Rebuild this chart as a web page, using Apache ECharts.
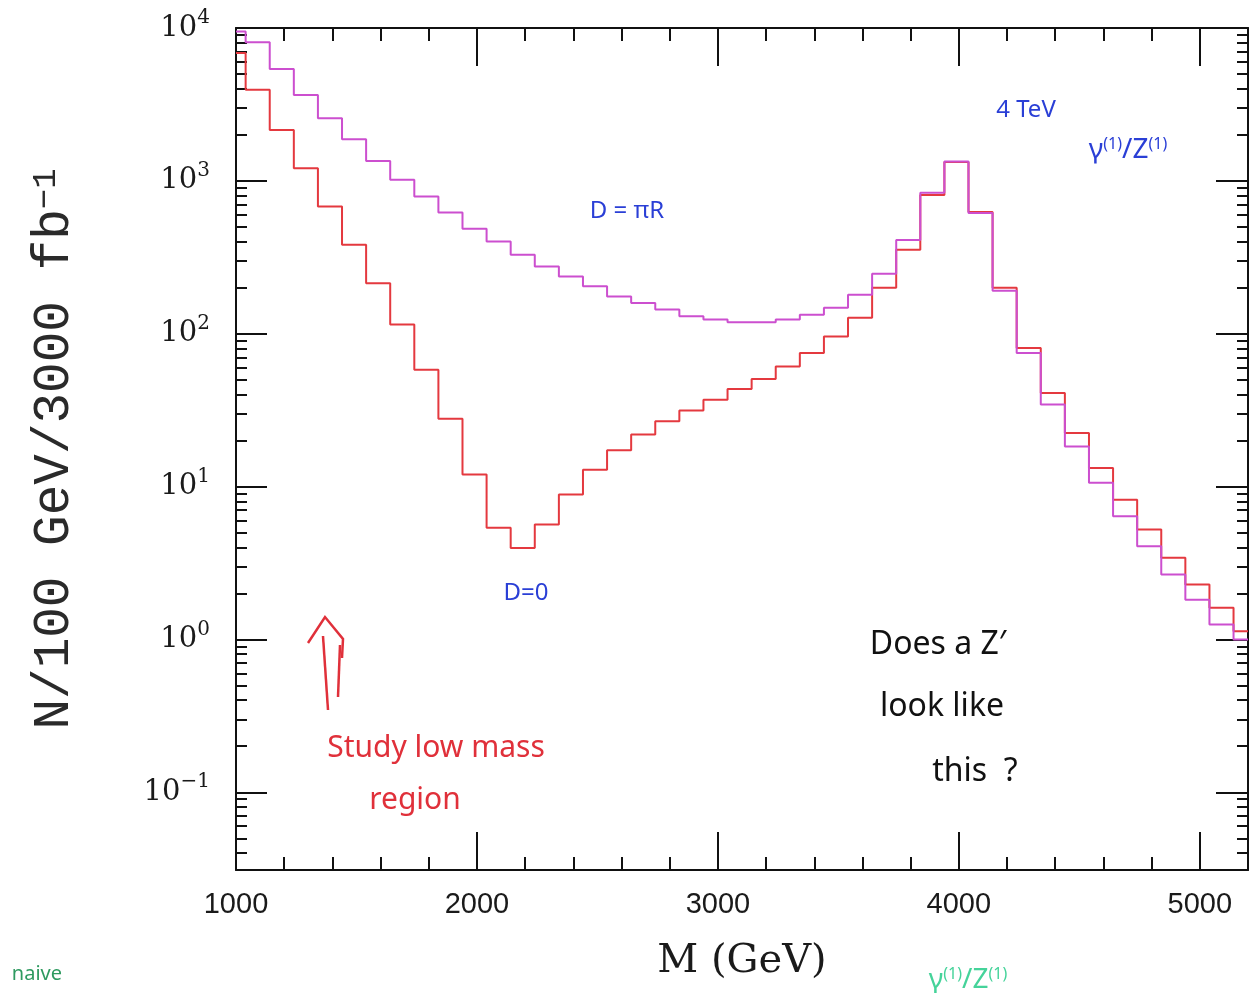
<!DOCTYPE html>
<html><head><meta charset="utf-8">
<script src="https://cdn.jsdelivr.net/npm/echarts@6/dist/echarts.min.js"></script>
<style>html,body{margin:0;padding:0;background:#fff}#c{width:1259px;height:993px}</style>
</head><body><div id="c"></div>
<script>
// ---- data ----
const binLeftEdges = [1000,1040,1140,1240,1340,1440,1540,1640,1740,1840,1940,2040,2140,2240,2340,2440,2540,2640,2740,2840,2940,3040,3140,3240,3340,3440,3540,3640,3740,3840,3940,4040,4140,4240,4340,4440,4540,4640,4740,4840,4940,5040,5140];
const histEnd = 5200;
const valuesDpiR = [9500,8060,5400,3650,2570,1870,1350,1015,790,620,486,401,328,275,237,204,175,159,144,130,124,119,119,124,133,148,180,247,411,835,1340,615,191,74.8,34.4,18.3,10.6,6.4,4.07,2.66,1.82,1.25,1.0];
const valuesD0 = [6870,3940,2155,1211,679,382,214,115,58.2,27.8,12.0,5.37,3.97,5.65,8.87,12.9,17.3,21.9,26.7,31.5,37.0,43.5,50.6,61.1,74.8,96,127,200,354,809,1330,625,200,80.7,40.9,22.4,13.2,8.2,5.24,3.42,2.29,1.61,1.13];
const xMajorTicks = [1000,2000,3000,4000,5000];
const xMinorTicks = [1200,1400,1600,1800,2200,2400,2600,2800,3200,3400,3600,3800,4200,4400,4600,4800,5200];
const yMajorTicks = [0.1,1,10,100,1000,10000];
const yMinorMultipliers = [2,3,4,5,6,7,8,9];
const yMin = 0.031, yMax = 10000;

function toSteps(vals){
  const d = binLeftEdges.map((x,i)=>[x, vals[i]]);
  d.push([histEnd, vals[vals.length-1]]);
  return d;
}
const yMinorTicks = [];
[-2,-1,0,1,2,3].forEach(e=>{
  yMinorMultipliers.forEach(k=>{
    const v = +(k*Math.pow(10,e)).toPrecision(6);
    if (v >= yMin && v <= yMax) yMinorTicks.push(v);
  });
});

const black = '#111';
const serif = 'DejaVu Serif';
function xAxisDef(pos, ticks, len, showLine, labels){
  return {
    type:'value', position:pos, min:1000, max:5200,
    axisLine:{show:showLine, onZero:false, lineStyle:{color:black,width:2}},
    axisTick:{show:true, inside:true, length:len, customValues:ticks, lineStyle:{color:black,width:2}},
    axisLabel: labels ? {show:true, customValues:xMajorTicks, margin:20, formatter: v => String(Math.round(v)),
      fontFamily:'Liberation Sans', fontSize:29, color:'#1a1a1a'} : {show:false},
    splitLine:{show:false}
  };
}
function yAxisDef(pos, ticks, len, showLine, labels){
  return {
    type:'log', logBase:10, position:pos, min:yMin, max:yMax,
    axisLine:{show:showLine, onZero:false, lineStyle:{color:black,width:2}},
    axisTick:{show:true, inside:true, length:len, customValues:ticks, lineStyle:{color:black,width:2}},
    axisLabel: labels ? {
      show:true, customValues:yMajorTicks, margin:26,
      formatter: v => {
        const e = Math.round(Math.log10(v));
        return '{b|10}{s|' + (e<0 ? '\u2212'+(-e) : e) + '}';
      },
      rich:{
        b:{fontFamily:serif, fontSize:29, color:'#1a1a1a', lineHeight:40, verticalAlign:'middle'},
        s:{fontFamily:serif, fontSize:20, color:'#1a1a1a', lineHeight:20, verticalAlign:'top'}
      }
    } : {show:false},
    splitLine:{show:false}
  };
}

const xA = [
  xAxisDef('bottom', xMajorTicks, 38, true, true),
  xAxisDef('bottom', xMinorTicks, 13, false, false),
  xAxisDef('top', xMajorTicks, 38, true, false),
  xAxisDef('top', xMinorTicks, 13, false, false)
];
xA[0].name = 'M (GeV)';
xA[0].nameLocation = 'middle';
xA[0].nameGap = 72;
xA[0].nameTextStyle = {fontFamily:serif, fontSize:40, color:'#1a1a1a'};

const yA = [
  yAxisDef('left', yMajorTicks, 31, true, true),
  yAxisDef('left', yMinorTicks, 11, false, false),
  yAxisDef('right', yMajorTicks, 32, true, false),
  yAxisDef('right', yMinorTicks, 11, false, false)
];
yA[0].name = 'N/100 GeV/3000 fb{s|\u22121}';
yA[0].nameLocation = 'middle';
yA[0].nameGap = 156;
yA[0].nameRotate = 90;
yA[0].nameTextStyle = {fontFamily:'Liberation Mono', fontSize:51, color:'#2a2a2a',
  rich:{s:{fontFamily:'Liberation Mono', fontSize:34, color:'#2a2a2a', verticalAlign:'top', lineHeight:34}}};

const hand = 'Noto Sans';
const blue = '#2a3fd6', red = '#e0303a', green1 = '#2e9a60', green2 = '#45d39a';
function txt(x,y,text,color,size,extra){
  return Object.assign({type:'text', x:x, y:y, silent:true,
    style:{text:text, fill:color, fontFamily:hand, fontSize:size, align:'center', verticalAlign:'middle'}}, extra||{});
}

const option = {
  backgroundColor:'#fff',
  animation:false,
  grid:{left:236, right:11, top:28, bottom:123, containLabel:false},
  xAxis: xA,
  yAxis: yA,
  series:[
    {name:'D=0', type:'line', step:'end', xAxisIndex:0, yAxisIndex:0, data:toSteps(valuesD0),
     showSymbol:false, symbol:'none', lineStyle:{color:'#e4393f', width:2}, silent:true},
    {name:'D=\u03c0R', type:'line', step:'end', xAxisIndex:0, yAxisIndex:0, data:toSteps(valuesDpiR),
     showSymbol:false, symbol:'none', lineStyle:{color:'#cc4fcf', width:2}, silent:true}
  ],
  graphic:[
    txt(627,211,'D = \u03c0R',blue,24),
    txt(526,593,'D=0',blue,24),
    txt(1026,110,'4 TeV',blue,24),
    {type:'text', x:1128, y:150, silent:true, style:{text:'\u03b3{s|(1)}/Z{s|(1)}', fill:blue, fontFamily:hand, fontSize:28, align:'center', verticalAlign:'middle',
      rich:{s:{fontSize:16, fill:blue, fontFamily:hand, verticalAlign:'top', lineHeight:16}}}},
    txt(436,748,'Study low mass',red,30),
    txt(415,800,'region',red,30),
    txt(938,645,'Does a Z\u2032','#111',32),
    txt(942,707,'look like','#111',32),
    txt(975,772,'this  ?','#111',32),
    {type:'text', x:62, y:974, silent:true, style:{text:'naive', fill:green1, fontFamily:hand, fontSize:20, align:'right', verticalAlign:'middle'}},
    {type:'text', x:968, y:980, silent:true, style:{text:'\u03b3{s|(1)}/Z{s|(1)}', fill:green2, fontFamily:hand, fontSize:28, align:'center', verticalAlign:'middle',
      rich:{s:{fontSize:16, fill:green2, fontFamily:hand, verticalAlign:'top', lineHeight:16}}}},
    {type:'polyline', silent:true, shape:{points:[[323,636],[328,710]]}, style:{stroke:red, lineWidth:2.5, fill:null}},
    {type:'polyline', silent:true, shape:{points:[[340,645],[338,697]]}, style:{stroke:red, lineWidth:2.5, fill:null}},
    {type:'polyline', silent:true, shape:{points:[[308,643],[325,617],[343,639],[342,658]]}, style:{stroke:red, lineWidth:2.5, fill:null}}
  ]
};
const chart = echarts.init(document.getElementById('c'), null, {renderer:'canvas'});
chart.setOption(option);
</script>
</body></html>
